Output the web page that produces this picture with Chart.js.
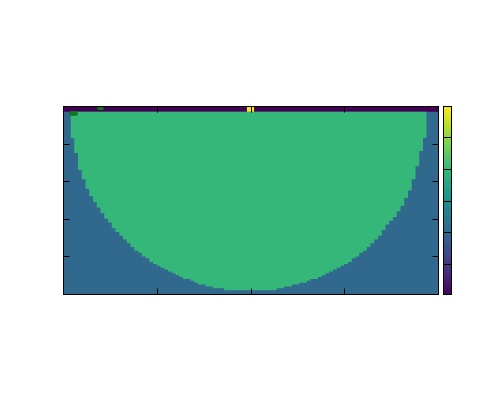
<!DOCTYPE html>
<html><head><meta charset="utf-8">
<script src="https://cdn.jsdelivr.net/npm/chart.js@4.4.1/dist/chart.umd.min.js"></script>
<style>
html,body{margin:0;padding:0;background:#fff;}
#wrap{position:relative;width:500px;height:400px;}
#main{position:absolute;left:0;top:0;}
#cbar{position:absolute;left:442px;top:105px;}
</style></head><body>
<div id="wrap"><canvas id="main" width="500" height="400"></canvas><canvas id="cbar" width="10" height="190"></canvas></div>
<script>
// Grid: 100 columns x 100 rows, row 0 at the top
const nCols = 100;
const nRows = 100;
const xTicks = [25, 50, 75];
const yTicks = [20, 40, 60, 80];
const cbTicks = [0, 1, 2, 3, 4, 5, 6];
const cbMin = 0;
const cbMax = 6;
const backgroundLevel = 2;
const stripLevel = 0;
const stripRows = [0, 3];
const peakCols = [49, 51];
const peakLevel = 6;
const regionLevel = 4;
const regionStartCol = 2;
const regionTopRow = 3;
// bottom row (exclusive) of the region for each column starting at regionStartCol
const regionDepth = [
  17,25,34,39,44,48,51,54,57,60,62,65,67,69,71,73,75,77,78,80,81,83,84,85,86,87,88,89,90,91,92,92,93,94,95,95,96,96,97,97,97,
  98,98,98,98,98,98,98,98,98,98,98,98,98,98,
  97,97,96,96,95,95,94,94,93,92,92,91,90,89,88,87,86,85,84,83,81,80,78,77,75,73,71,69,66,63,61,59,56,53,49,45,39,32,24,17
];
const blobX = [2.8, 10.0];
const blobY = [4.0, 1.2];

const viridisStops = ['#440154','#482878','#3e4989','#31688e','#26828e','#1f9e89','#35b779','#6ece58','#b5de2b','#fde725'];
function hex2rgb(h){return [parseInt(h.slice(1,3),16),parseInt(h.slice(3,5),16),parseInt(h.slice(5,7),16)];}
function viridis(t){
  t=Math.max(0,Math.min(1,t));
  const p=t*(viridisStops.length-1); const i=Math.min(Math.floor(p),viridisStops.length-2); const f=p-i;
  const a=hex2rgb(viridisStops[i]), b=hex2rgb(viridisStops[i+1]);
  return 'rgb('+a.map((v,k)=>Math.round(v+(b[k]-v)*f)).join(',')+')';
}
function levelColor(v){return viridis((v-cbMin)/(cbMax-cbMin));}

// region outline points
const regionPts = [];
regionDepth.forEach((d,i)=>{const c=regionStartCol+i; regionPts.push({x:c,y:d},{x:c+1,y:d});});

function makeBlob(w,h,color){
  const c=document.createElement('canvas'); c.width=w; c.height=h;
  const g=c.getContext('2d'); g.fillStyle=color; g.beginPath();
  g.ellipse(w/2,h/2,w/2,h/2,0,0,Math.PI*2); g.fill(); return c;
}
const blobColor = '#0d7a1c';
const blobStyles = [makeBlob(9,5,blobColor), makeBlob(7,3,blobColor)];

const base = {borderColor:'rgba(0,0,0,0)', borderWidth:0, pointRadius:0, showLine:true, tension:0};

const framePlugin = {
  id:'frame',
  afterDraw(chart){
    const {ctx, chartArea:a, scales:{x,y}} = chart;
    ctx.save();
    ctx.strokeStyle='#000'; ctx.lineWidth=1;
    const L=Math.round(a.left)+0.5, R=Math.round(a.right)+0.5, T=Math.round(a.top)+0.5, B=Math.round(a.bottom)+0.5;
    ctx.strokeRect(L,T,R-L,B-T);
    const len=6;
    ctx.beginPath();
    xTicks.forEach(v=>{const px=Math.round(x.getPixelForValue(v))+0.5; ctx.moveTo(px,B); ctx.lineTo(px,B-len); ctx.moveTo(px,T); ctx.lineTo(px,T+len);});
    yTicks.forEach(v=>{const py=Math.round(y.getPixelForValue(v))+0.5; ctx.moveTo(L,py); ctx.lineTo(L+len,py); ctx.moveTo(R,py); ctx.lineTo(R-len,py);});
    ctx.stroke();
    ctx.restore();
  }
};

new Chart(document.getElementById('main'), {
  type:'line',
  data:{datasets:[
    Object.assign({}, base, {label:'background', order:5, data:[{x:0,y:nRows},{x:nCols,y:nRows}], fill:{value:0}, backgroundColor:levelColor(backgroundLevel)}),
    Object.assign({}, base, {label:'strip', order:4, data:[{x:0,y:stripRows[1]},{x:nCols,y:stripRows[1]}], fill:{value:stripRows[0]}, backgroundColor:levelColor(stripLevel)}),
    Object.assign({}, base, {label:'region', order:3, data:regionPts, fill:{value:regionTopRow}, backgroundColor:levelColor(regionLevel)}),
    Object.assign({}, base, {label:'peak', order:2, data:[{x:peakCols[0],y:stripRows[1]},{x:peakCols[1],y:stripRows[1]}], fill:{value:stripRows[0]}, backgroundColor:levelColor(peakLevel)}),
    {label:'blobs', order:1, showLine:false, data:blobX.map((v,i)=>({x:v,y:blobY[i]})), pointStyle:blobStyles, pointRadius:4, borderWidth:0, backgroundColor:blobColor, fill:false}
  ]},
  options:{
    responsive:false, animation:false, events:[],
    layout:{padding:{left:63, top:106, right:62, bottom:106}},
    plugins:{legend:{display:false}, tooltip:{enabled:false}},
    scales:{
      x:{type:'linear', display:false, min:0, max:nCols},
      y:{type:'linear', display:false, min:0, max:nRows, reverse:true}
    }
  },
  plugins:[framePlugin]
});

const cbPlugin = {
  id:'cbframe',
  afterDraw(chart){
    const {ctx, chartArea:a, scales:{y}} = chart;
    ctx.save(); ctx.strokeStyle='#000'; ctx.lineWidth=1;
    const L=Math.round(a.left)+0.5, R=Math.round(a.right)-0.5, T=Math.round(a.top)+0.5, B=Math.round(a.bottom)-0.5;
    ctx.strokeRect(L,T,R-L,B-T);
    ctx.beginPath();
    cbTicks.slice(1,-1).forEach(v=>{const py=Math.round(y.getPixelForValue(v))+0.5; ctx.moveTo(L,py); ctx.lineTo(R,py);});
    ctx.stroke(); ctx.restore();
  }
};

new Chart(document.getElementById('cbar'), {
  type:'bar',
  data:{labels:['cb'], datasets:[{data:[[cbMin,cbMax]], borderWidth:0, barPercentage:1, categoryPercentage:1,
    backgroundColor:(c)=>{
      const ch=c.chart; if(!ch.chartArea) return null;
      const y=ch.scales.y;
      const g=ch.ctx.createLinearGradient(0,y.getPixelForValue(cbMin),0,y.getPixelForValue(cbMax));
      viridisStops.forEach((s,i)=>g.addColorStop(i/(viridisStops.length-1), s));
      return g;
    }}]},
  options:{
    responsive:false, animation:false, events:[],
    layout:{padding:{left:1, right:0, top:1, bottom:0}},
    plugins:{legend:{display:false}, tooltip:{enabled:false}},
    scales:{x:{display:false}, y:{display:false, min:cbMin, max:cbMax}}
  },
  plugins:[cbPlugin]
});
</script>
</body></html>
